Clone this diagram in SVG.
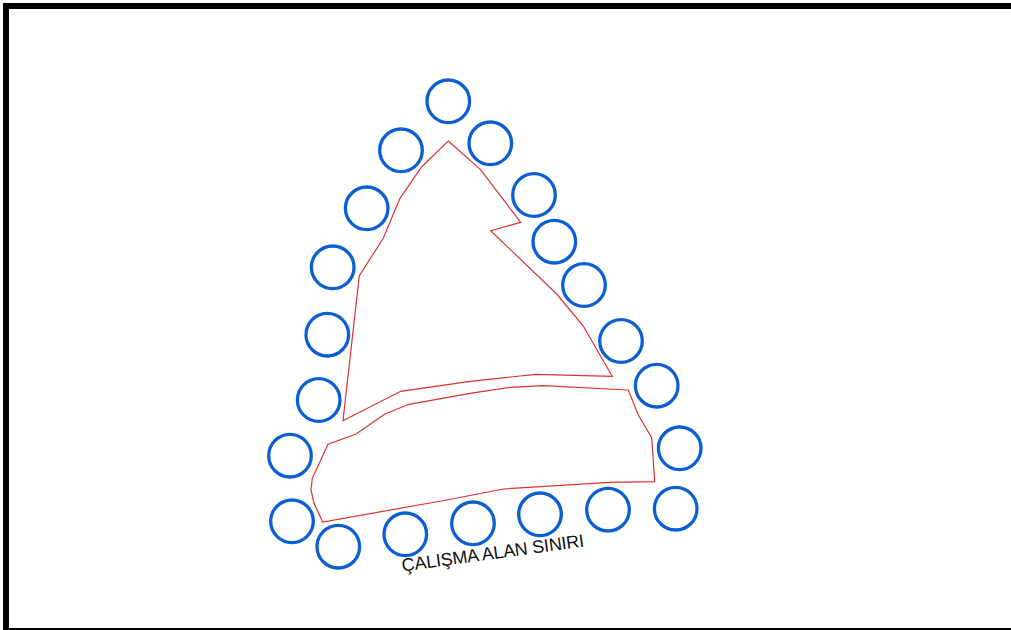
<svg xmlns="http://www.w3.org/2000/svg" width="1011" height="630" viewBox="0 0 1011 630">
<style>
.c{fill:none;stroke:#0c5ed4;stroke-width:3.3}
.p{fill:none;stroke:#d8322e;stroke-width:1.2;stroke-linejoin:miter}
.t{font-family:"Liberation Sans",Arial,sans-serif;font-size:18px;fill:#111}
</style>
<rect width="1011" height="630" fill="#fff"/>
<g id="frame" fill="#000">
<rect x="3" y="3" width="1008" height="6"/>
<rect x="3" y="3" width="6" height="627"/>
<rect x="3" y="628" width="1008" height="2"/>
</g>
<g id="boundaries">
<polygon id="area-north" class="p" points="448.3,141 480.3,169.3 520.7,222.3 490.7,230.7 556.7,294 583.3,326 606.7,366.7 612.3,376.3 536,374.3 470,381.3 400.7,391.3 343,420.7 359.3,275.7 383.3,238.3 400,198.3 421.7,166.7"/>
<polygon id="area-south" class="p" points="628.3,390 543.3,385.7 510,387.3 470,393.3 409,404.3 385,414 356,434 328,444.3 312.3,478.3 311,490 314,503.3 322.7,522 446.7,500 503.3,489 610,482.3 654.7,481.7 651.7,437.7 638.3,415"/>
</g>
<g id="circles">
<circle class="c" cx="448.3" cy="101.3" r="21.3"/>
<circle class="c" cx="401" cy="150.3" r="21.3"/>
<circle class="c" cx="490.3" cy="143.3" r="21.3"/>
<circle class="c" cx="366.7" cy="208.3" r="21.3"/>
<circle class="c" cx="534" cy="195" r="21.3"/>
<circle class="c" cx="554.3" cy="241.7" r="21.3"/>
<circle class="c" cx="332.7" cy="267.3" r="21.3"/>
<circle class="c" cx="584" cy="285" r="21.3"/>
<circle class="c" cx="327.3" cy="334.7" r="21.3"/>
<circle class="c" cx="621" cy="341" r="21.3"/>
<circle class="c" cx="656.7" cy="385.7" r="21.3"/>
<circle class="c" cx="318.7" cy="400" r="21.3"/>
<circle class="c" cx="679.7" cy="448.3" r="21.3"/>
<circle class="c" cx="290" cy="455.7" r="21.3"/>
<circle class="c" cx="292" cy="521.3" r="21.3"/>
<circle class="c" cx="675.7" cy="508.7" r="21.3"/>
<circle class="c" cx="608" cy="509.7" r="21.3"/>
<circle class="c" cx="540" cy="514.3" r="21.3"/>
<circle class="c" cx="473" cy="523.3" r="21.3"/>
<circle class="c" cx="405.3" cy="534.3" r="21.3"/>
<circle class="c" cx="338.3" cy="546.7" r="21.3"/>
</g>
<text class="t" transform="translate(402.5 571.5) rotate(-7.8)" textLength="184" lengthAdjust="spacing">ÇALIŞMA ALAN SINIRI</text>
</svg>
